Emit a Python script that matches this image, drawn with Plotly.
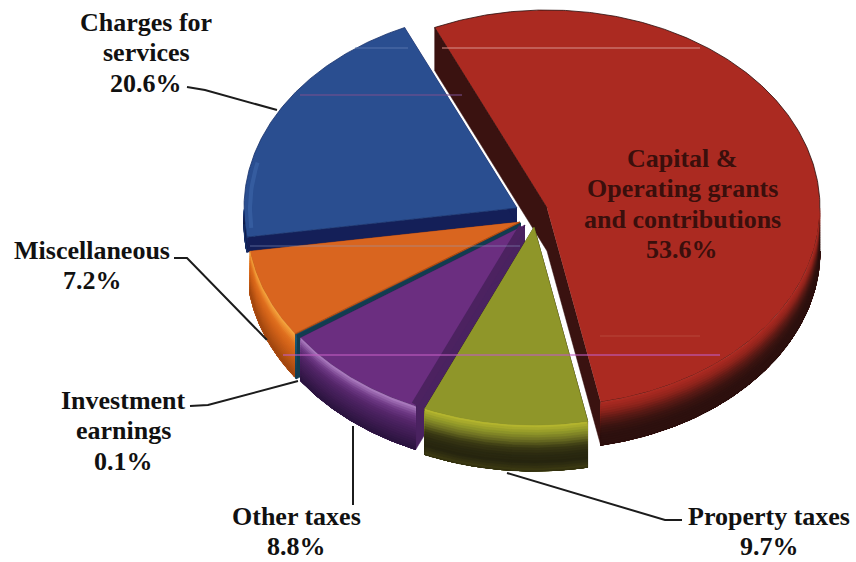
import numpy as np
import plotly.graph_objects as go

# Revenue shares, clockwise from the large grants slice
categories = ["Capital & Operating grants and contributions", "Property taxes", "Other taxes",
              "Investment earnings", "Miscellaneous", "Charges for services"]
shares = [53.6, 9.7, 8.8, 0.1, 7.2, 20.6]
label_lines = [["Capital &", "Operating grants", "and contributions", "53.6%"],
               ["Property taxes", "9.7%"], ["Other taxes", "8.8%"],
               ["Investment", "earnings", "0.1%"], ["Miscellaneous", "7.2%"],
               ["Charges for", "services", "20.6%"]]
label_pos = [(682, 158), (769, 516), (296, 516), (123, 400), (92, 250), (146, 22)]
label_color = ["#3a0f0c", "#111111", "#111111", "#111111", "#111111", "#111111"]
LINE_GAP = 30.5

# Pie geometry in pixels
CX, CY, RX, RY = 530, 215, 273, 198
START_DEG = -24.3
DRAW_ORDER = [5, 0, 4, 3, 2, 1]
explode = [(17, -7), (4, 12), (-5, 10), (-9, 8), (-10, 7), (-13, -7)]
depth = [43, 46, 43, 43, 43, 15]

faces = ["#AB2A21", "#8F9629", "#6B2E80", "#1C5B78", "#D9651F", "#2A4E90"]
rim_ramps = [
    ["#AB2A21", "#8f241c", "#5c1a15", "#3a1411", "#2d100e", "#2d100e"],
    ["#b4b52e", "#8f9629", "#6a6c22", "#3a3914", "#2a2910", "#26250f", "#3a3812"],
    ["#a877bc", "#6f3a86", "#55266a", "#46205b", "#3a1a4e", "#2c1440"],
    ["#1C5B78", "#174a63", "#123c50"],
    ["#f3a23c", "#e0701f", "#cf6018", "#b85414", "#a0460f"],
    ["#1d3f7c", "#16285f", "#101b44"],
]
side_walls = ["#3a1210", "#2e2c10", "#4a2260", "#123c50", "#b34a12", "#141f58"]
outlines = ["#2a0e0c", "#33310f", "#2c1440", "#123c50", "#a84a12", "#16306a"]
BANDS = 18

# Leader lines from labels to slices
leaders = [[(187, 87), (205, 90), (277, 110)],
           [(174, 258), (187, 258), (267, 340)],
           [(190, 406), (208, 405), (298, 381)],
           [(353, 426), (353, 505)],
           [(507, 473), (665, 520), (682, 520)]]

# Faint scan streaks crossing the pie
streaks = [(48, 355, 408, "#5a78b0", 0.6), (48, 442, 700, "#d98f88", 0.7), (95, 300, 462, "#7a4f8f", 0.7),
           (355, 283, 720, "#c05cc0", 0.75), (246, 250, 520, "#8fa0c8", 0.35), (336, 600, 700, "#c96a5a", 0.3)]

fig = go.Figure()


def poly(xs, ys, color, line=None, width=0):
    fig.add_trace(go.Scatter(
        x=list(xs), y=list(ys), mode="lines", fill="toself", fillcolor=color,
        line=dict(color=line or color, width=width if line else 0.5),
        hoverinfo="skip", showlegend=False))


def stroke(xs, ys, color, width, opacity=1.0):
    fig.add_trace(go.Scatter(x=list(xs), y=list(ys), mode="lines", hoverinfo="skip", showlegend=False,
                             opacity=opacity, line=dict(color=color, width=width)))


def rim(ax, ay, deg):
    t = np.radians(deg)
    return ax + RX * np.sin(t), ay - RY * np.cos(t)


def ramp_color(stops, t):
    rgb = np.array([[int(c[k:k + 2], 16) for k in (1, 3, 5)] for c in stops], float)
    pos = t * (len(stops) - 1)
    j = min(int(pos), len(stops) - 2)
    mix = rgb[j] + (rgb[j + 1] - rgb[j]) * (pos - j)
    return "#%02x%02x%02x" % tuple(int(round(v)) for v in mix)


ends = START_DEG + np.cumsum(shares) * 3.6
starts = np.concatenate([[START_DEG], ends[:-1]])

for i in DRAW_ORDER:
    ax, ay = CX + explode[i][0], CY + explode[i][1]
    a0, a1 = starts[i], ends[i]
    d = depth[i]
    arc = np.linspace(a0, a1, max(int(a1 - a0) * 2, 3))
    xs, ys = rim(ax, ay, arc)
    # cut faces extruded downward
    for deg in (a0, a1):
        ex, ey = rim(ax, ay, deg)
        poly([ax, ex, ex, ax], [ay, ey, ey + d, ay + d], side_walls[i])
    # top face
    poly(np.r_[ax, xs], np.r_[ay, ys], faces[i], outlines[i], 0.8)
    # curved outer wall: each shade runs to the wall's foot, so later ones overpaint cleanly
    front = arc[(arc % 360 >= 90) & (arc % 360 <= 270)]
    if front.size > 1:
        fx, fy = rim(ax, ay, front)
        for b in range(BANDS):
            d0 = d * b / BANDS
            poly(np.r_[fx, fx[::-1]], np.r_[fy + d0, fy[::-1] + d],
                 ramp_color(rim_ramps[i], b / (BANDS - 1)))
        stroke(fx, fy + d, outlines[i], 1.2)

# Darker bevel along the purple slice's right edge
ax, ay = CX + explode[2][0], CY + explode[2][1]
ex, ey = rim(ax, ay, starts[2])
stroke([ax - 3, ex - 1], [ay + 2, ey - 2], "#4c2260", 7)

# Pale glint on the blue slice's left rim
ax, ay = CX + explode[5][0], CY + explode[5][1]
gx, gy = rim(ax, ay, np.linspace(ends[4] + 3, ends[4] + 22, 20))
stroke(gx + 6, gy + 1, "#4f7fc4", 4, 0.3)

# Redraw the olive face so the bevel sits behind it
ax, ay = CX + explode[1][0], CY + explode[1][1]
xs, ys = rim(ax, ay, np.linspace(starts[1], ends[1], 70))
poly(np.r_[ax, xs], np.r_[ay, ys], faces[1], faces[1], 0.5)

for y, x0, x1, col, op in streaks:
    stroke([x0, x1], [y, y], col, 1.5, op)

for pts in leaders:
    stroke([p[0] for p in pts], [p[1] for p in pts], "#1c1c1c", 2)

for lines, (x, y), col in zip(label_lines, label_pos, label_color):
    for n, line in enumerate(lines):
        fig.add_annotation(x=x, y=y + n * LINE_GAP, text=line, showarrow=False, align="center",
                           xanchor="center", yanchor="middle",
                           font=dict(family="Liberation Serif", size=26, color=col, weight="bold"))

fig.update_layout(
    width=856, height=562, margin=dict(l=0, r=0, t=0, b=0),
    paper_bgcolor="white", plot_bgcolor="white",
    xaxis=dict(range=[0, 856], visible=False),
    yaxis=dict(range=[562, 0], visible=False),
)
fig.write_html("out.html")
